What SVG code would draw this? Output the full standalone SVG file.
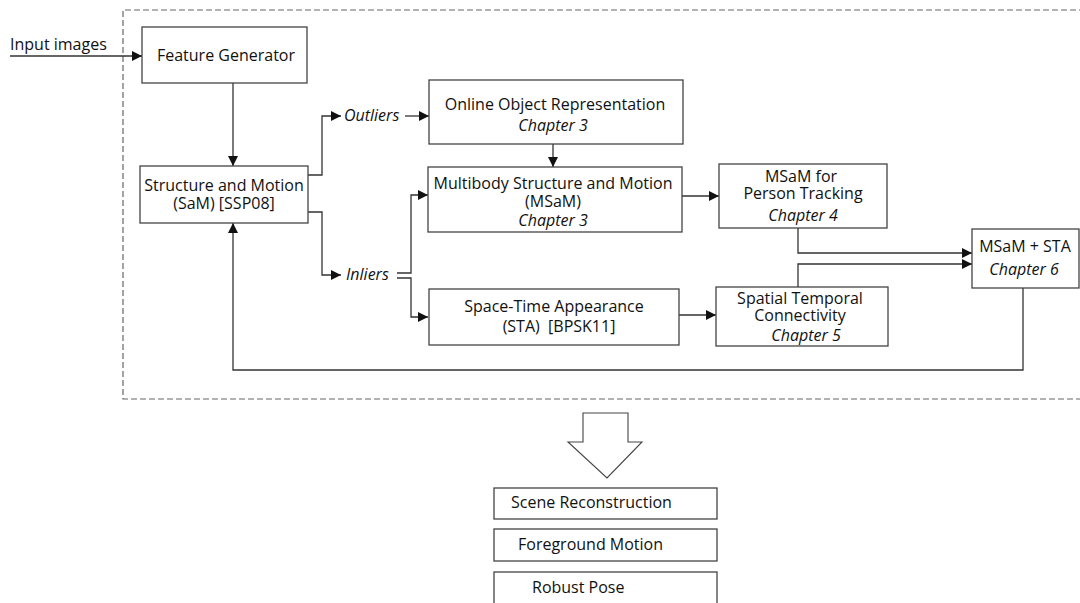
<svg xmlns="http://www.w3.org/2000/svg" width="1080" height="603" viewBox="0 0 1080 603">
<style>
text{font-family:"Open Sans","Noto Sans","Liberation Sans",sans-serif;font-size:16px;fill:#111;white-space:pre}
.c{text-anchor:middle}
.i{font-style:italic}
.box{fill:#fff;stroke:#444;stroke-width:1.3}
.ln{fill:none;stroke:#333;stroke-width:1.3}
.dash{fill:none;stroke:#666;stroke-width:1.2;stroke-dasharray:6 3}
</style>
<defs>
<marker id="ah" markerUnits="userSpaceOnUse" markerWidth="12" markerHeight="10" refX="10" refY="5" orient="auto">
<path d="M0,0 L10,5 L0,10 Z" fill="#111"/>
</marker>
</defs>
<rect width="1080" height="603" fill="#fff"/>
<g id="frame">
<path class="dash" d="M1085 10 H123 V399 H1085"/>
</g>
<g id="connectors">
<path class="ln" d="M10 56 H142" marker-end="url(#ah)"/>
<path class="ln" d="M233 83 V166" marker-end="url(#ah)"/>
<path class="ln" d="M308 175 H322 V116 H341" marker-end="url(#ah)"/>
<path class="ln" d="M405 116 H429" marker-end="url(#ah)"/>
<path class="ln" d="M553 144 V167" marker-end="url(#ah)"/>
<path class="ln" d="M308 212 H322 V275 H341" marker-end="url(#ah)"/>
<path class="ln" d="M397 273 H411 V195 H428" marker-end="url(#ah)"/>
<path class="ln" d="M397 278 H411 V317 H428" marker-end="url(#ah)"/>
<path class="ln" d="M682 196 H719" marker-end="url(#ah)"/>
<path class="ln" d="M679 315 H716" marker-end="url(#ah)"/>
<path class="ln" d="M798 228 V253 H972" marker-end="url(#ah)"/>
<path class="ln" d="M798 287 V264 H972" marker-end="url(#ah)"/>
<path class="ln" d="M1023 288 V370 H233 V223" marker-end="url(#ah)"/>
</g>
<g id="input"><text x="10" y="50">Input images</text></g>
<g id="fg">
<rect class="box" x="142" y="27" width="165" height="56"/>
<text class="c" x="226" y="61">Feature Generator</text>
</g>
<g id="sam">
<rect class="box" x="140" y="166" width="168" height="57"/>
<text class="c" x="224" y="191">Structure and Motion</text>
<text class="c" x="224" y="209">(SaM) [SSP08]</text>
</g>
<g id="outliers"><text class="i" x="344" y="121">Outliers</text></g>
<g id="inliers"><text class="i" x="346" y="280">Inliers</text></g>
<g id="oor">
<rect class="box" x="429" y="80" width="254" height="64"/>
<text class="c" x="555" y="110">Online Object Representation</text>
<text class="c i" x="553" y="131">Chapter 3</text>
</g>
<g id="msam">
<rect class="box" x="428" y="167" width="254" height="65"/>
<text class="c" x="553" y="189">Multibody Structure and Motion</text>
<text class="c" x="553" y="207">(MSaM)</text>
<text class="c i" x="553" y="226">Chapter 3</text>
</g>
<g id="msampt">
<rect class="box" x="719" y="164" width="168" height="64"/>
<text class="c" x="801" y="182">MSaM for</text>
<text class="c" x="803" y="199">Person Tracking</text>
<text class="c i" x="803" y="221">Chapter 4</text>
</g>
<g id="sta">
<rect class="box" x="429" y="289" width="250" height="56"/>
<text class="c" x="554" y="312">Space-Time Appearance</text>
<text class="c" x="559" y="332">(STA)  [BPSK11]</text>
</g>
<g id="stc">
<rect class="box" x="716" y="287" width="172" height="59"/>
<text class="c" x="800" y="304">Spatial Temporal</text>
<text class="c" x="800" y="321">Connectivity</text>
<text class="c i" x="806" y="341">Chapter 5</text>
</g>
<g id="msamsta">
<rect class="box" x="972" y="229" width="107" height="59"/>
<text class="c" x="1025" y="252">MSaM + STA</text>
<text class="c i" x="1024" y="275">Chapter 6</text>
</g>
<g id="bigarrow">
<polygon points="583,413 628,413 628,442 642,442 607,478 568,442 583,442" fill="#fff" stroke="#444" stroke-width="1.1"/>
</g>
<g id="scene">
<rect class="box" x="494" y="488" width="223" height="31"/>
<text x="511" y="508">Scene Reconstruction</text>
</g>
<g id="fgmotion">
<rect class="box" x="494" y="529" width="223" height="32"/>
<text x="518" y="550">Foreground Motion</text>
</g>
<g id="pose">
<rect class="box" x="494" y="572" width="223" height="33"/>
<text x="532" y="593">Robust Pose</text>
</g>
</svg>
